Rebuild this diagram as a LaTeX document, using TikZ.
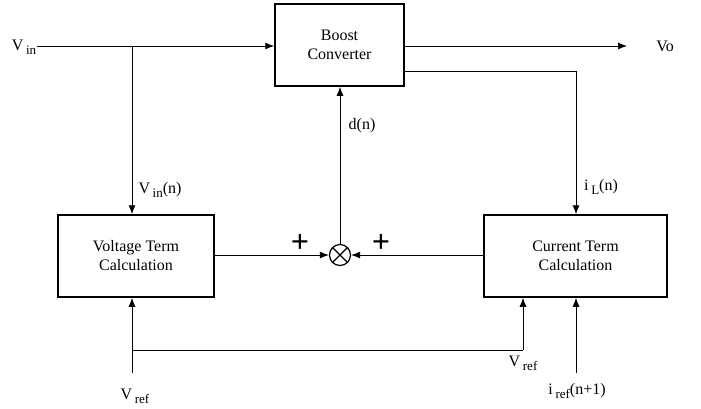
\documentclass[tikz,border=0pt]{standalone}
\usepackage{fontspec}
\setmainfont{Liberation Serif}
\usetikzlibrary{arrows.meta,positioning,calc}

\newcommand{\lblfont}{\fontsize{16}{19}\selectfont}
\newcommand{\lowtext}[1]{\,\raisebox{-0.55ex}{\fontsize{13}{13}\selectfont #1}}

\begin{document}
\begin{tikzpicture}[
  x=1pt,y=-1pt,
  blk/.style={draw, line width=1.5pt, align=center, minimum height=82pt, inner sep=2pt, font=\lblfont},
  lbl/.style={inner sep=1pt, font=\lblfont},
  sgn/.style={inner sep=0pt, font=\fontsize{32}{32}\selectfont\bfseries},
  mult/.style={draw, line width=1.2pt, circle, minimum size=21pt, inner sep=0pt,
    path picture={\draw[line width=1.2pt] (path picture bounding box.north west) -- (path picture bounding box.south east)
      (path picture bounding box.north east) -- (path picture bounding box.south west);}},
  arr/.style={-{Latex[length=9pt,width=7pt]}, line width=0.9pt},
  ln/.style={line width=0.9pt}
]
\useasboundingbox (0,0) rectangle (701,408);

% blocks
\node[blk, minimum width=129pt] (boost) at (339.5,45) {Boost\\Converter};
\node[blk, minimum width=156pt] (volt) at (136,256) {Voltage Term\\Calculation};
\node[blk, minimum width=183pt] (curr) at (575.5,256) {Current Term\\Calculation};
\node[mult] (mul) at (340,255) {};

% inputs and outputs
\node[lbl] (vin) at (24,47) {V\lowtext{in}};
\node[lbl] (vo) at (665,46) {Vo};
\coordinate (vojoin) at (627,46);
\coordinate (vinsplit) at (132,46);
\coordinate (iltap) at (576,71);
\coordinate (vrefin) at (132,373);
\coordinate (vrefsplit) at (132,350);
\coordinate (vrefturn) at (523,350);
\coordinate (irefin) at (576,373);

\draw[arr] (vin.east |- vinsplit) -- (boost.west |- vinsplit);
\draw[arr] (boost.east |- vojoin) -- (vojoin);
\draw[arr] (vinsplit) -- (vinsplit |- volt.north);
\draw[arr] (boost.east |- iltap) -- (iltap) -- (iltap |- curr.north);
\draw[arr] (volt.east |- mul) -- (mul.west);
\draw[arr] (curr.west |- mul) -- (mul.east);
\draw[arr] (mul.north) -- (mul |- boost.south);
\draw[arr] (vrefin) -- (vrefin |- volt.south);
\draw[ln] (vrefsplit) -- (vrefturn);
\draw[arr] (vrefturn) -- (vrefturn |- curr.south);
\draw[arr] (irefin) -- (irefin |- curr.south);

% signal labels
\node[lbl] (vinn) at (160,190) {V\lowtext{in}(n)};
\node[lbl] (iln) at (601,187) {i\lowtext{L}(n)};
\node[lbl] (dn) at (362,126) {d(n)};
\node[lbl] (vrefm) at (523,363) {V\lowtext{ref}};
\node[lbl] (vrefb) at (135,396) {V\lowtext{ref}};
\node[lbl] (iref) at (577,391) {i\lowtext{ref}(n+1)};
\node[sgn] (pl) at (300,243) {+};
\node[sgn] (pr) at (381,243) {+};
\end{tikzpicture}
\end{document}
